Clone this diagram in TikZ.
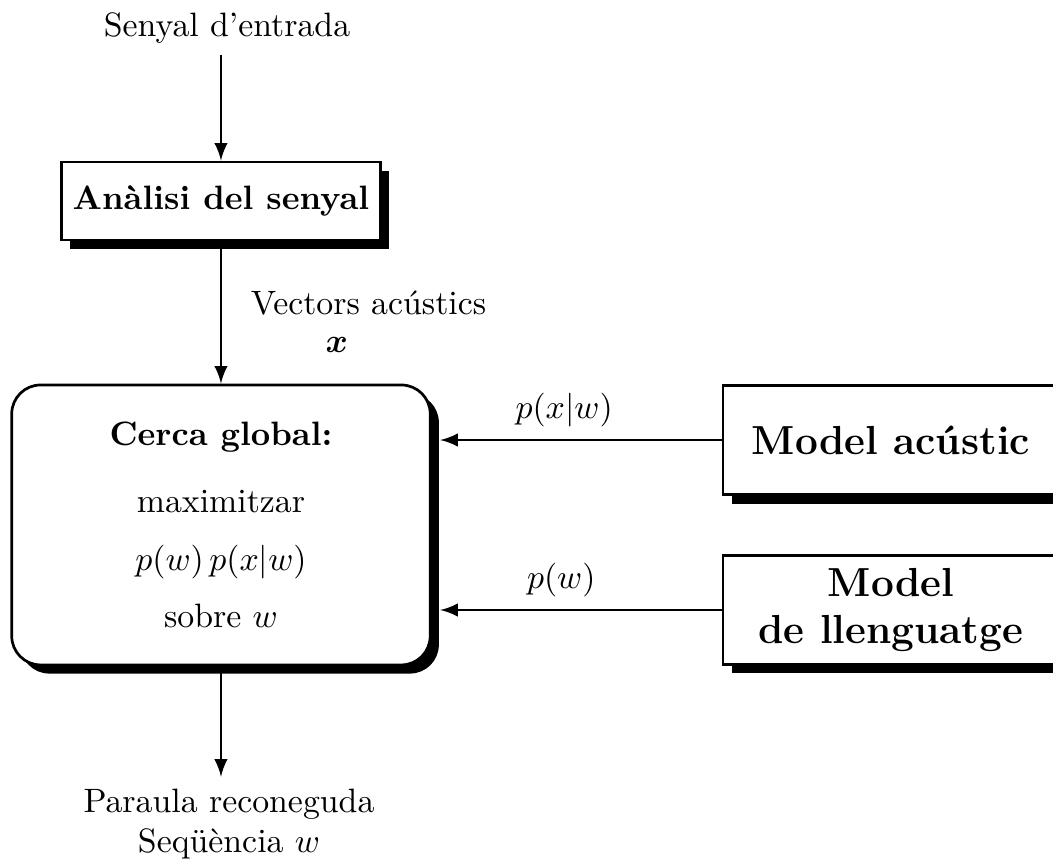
\documentclass[tikz,border=0pt]{standalone}
\usepackage{fontspec}
\usepackage{amsmath}
\usepackage{tikz}
\usetikzlibrary{shadows}
\usetikzlibrary{arrows}
\tikzset{
    block/.style={draw=black, thick, fill=white, align=center,
             drop shadow={shadow xshift=0.09cm, shadow yshift=-0.09cm, fill=black, opacity=1}
    },
    search/.style={block, rounded corners=0.3cm, minimum width=4.35cm, minimum height=2.91cm},
    model/.style={block, font=\large\bfseries, minimum width=3.49cm, minimum height=1.14cm},
    flow/.style={draw=black, thick, -latex},
    plain/.style={align=center}
  }
\begin{document}
\begin{tikzpicture}
    \useasboundingbox (0,0) rectangle (10.946,8.950);
 %Input signal
     \node[plain] (entrada) at (2.36,8.66) {Senyal d'entrada};
 %Signal analysis
     \node[block, font=\bfseries, minimum width=3.22cm, minimum height=0.81cm] (analisi) at (2.297,6.861) {Anàlisi del senyal};
 %Global search
     \node[search] (cerca) at (2.297,3.493) {\textbf{Cerca global:}\\[8pt] maximitzar\\[5pt] $p(w)\,p(x|w)$\\[5pt] sobre $w$};
 %Models
     \node[model] (acustic) at (9.262,4.376) {Model acústic};
     \node[model] (llenguatge) at (9.262,2.609) {Model\\de llenguatge};
 %Labels
     \node (vectors) at (3.83,5.80) {Vectors acústics};
     \node (xvec) at (3.50,5.36) {$\boldsymbol{x}$};
     \node[plain] (sortida) at (2.38,0.385) {Paraula reconeguda\\Seqüència $w$};
 % arrows
     \draw[flow] (analisi|-entrada.south) -- (analisi.north);
     \draw[flow] (analisi.south) -- (cerca.north);
     \draw[flow] (acustic.west) -- ([xshift=0.09cm]cerca.east|-acustic.west) node[pos=0.56, above] {$p(x|w)$};
     \draw[flow] (llenguatge.west) -- ([xshift=0.09cm]cerca.east|-llenguatge.west) node[pos=0.57, above] {$p(w)$};
     \draw[flow] (cerca.south) -- (cerca.south|-sortida.north);
\end{tikzpicture}
\end{document}
